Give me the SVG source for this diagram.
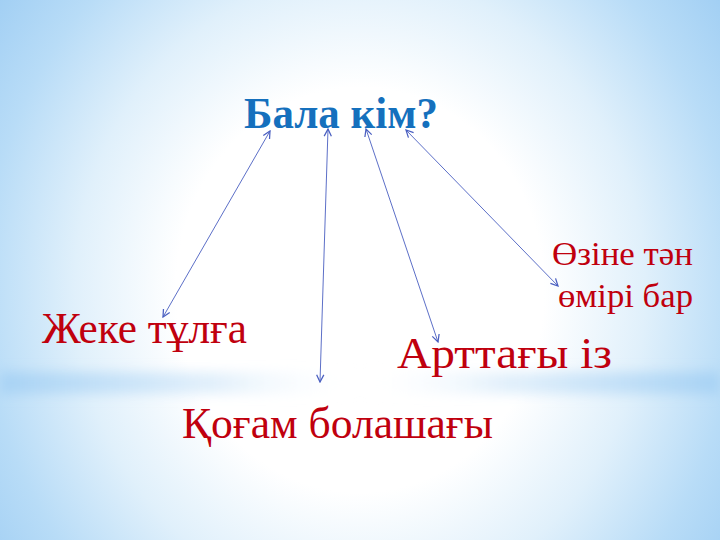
<svg xmlns="http://www.w3.org/2000/svg" width="720" height="540" viewBox="0 0 720 540">
<defs>
<radialGradient id="bg" cx="360" cy="290" r="460" gradientUnits="userSpaceOnUse" gradientTransform="translate(360 290) scale(1 1.1) translate(-360 -290)">
<stop offset="0" stop-color="#ffffff"/>
<stop offset="0.4" stop-color="#ffffff"/>
<stop offset="0.62" stop-color="#e0f0fb"/>
<stop offset="0.82" stop-color="#b8dcf7"/>
<stop offset="1" stop-color="#9ecdf3"/>
</radialGradient>
<linearGradient id="band" x1="0" y1="0" x2="1" y2="0">
<stop offset="0" stop-color="#a5d1f4" stop-opacity="0.9"/>
<stop offset="0.3" stop-color="#cfe6f9" stop-opacity="0.6"/>
<stop offset="0.5" stop-color="#ffffff" stop-opacity="0"/>
<stop offset="0.7" stop-color="#cfe6f9" stop-opacity="0.6"/>
<stop offset="1" stop-color="#a5d1f4" stop-opacity="0.9"/>
</linearGradient>
<filter id="blur" x="-0.1" y="-1" width="1.2" height="3"><feGaussianBlur stdDeviation="6"/></filter>
<marker id="ah" viewBox="0 0 10 10" refX="9" refY="5" markerWidth="9" markerHeight="9" markerUnits="userSpaceOnUse" orient="auto-start-reverse">
<path d="M1,1 L9,5 L1,9" fill="none" stroke="#4a5fc1" stroke-width="1.4"/>
</marker>
</defs>
<style>
.t{font-family:"Liberation Serif","DejaVu Serif","Times New Roman",serif;fill:#c0000e}
.c{stroke:#4a5fc1;stroke-width:0.9;fill:none;marker-start:url(#ah);marker-end:url(#ah)}
</style>
<rect width="720" height="540" fill="url(#bg)"/>
<rect x="0" y="372" width="720" height="22" fill="url(#band)" filter="url(#blur)"/>
<g id="node-title"><text class="t" x="244" y="128" font-size="44" font-weight="bold" style="fill:#1570bd" textLength="194" lengthAdjust="spacingAndGlyphs">Бала кім?</text></g>
<g id="node-jeke"><text class="t" x="42" y="343" font-size="44" textLength="205" lengthAdjust="spacingAndGlyphs">Жеке тұлға</text></g>
<g id="node-qogam"><text class="t" x="182" y="438" font-size="44" textLength="311" lengthAdjust="spacingAndGlyphs">Қоғам болашағы</text></g>
<g id="node-arttagy"><text class="t" x="397" y="368" font-size="45" textLength="215" lengthAdjust="spacingAndGlyphs">Арттағы із</text></g>
<g id="node-ozine"><text class="t" font-size="33"><tspan x="552" y="265" textLength="141" lengthAdjust="spacingAndGlyphs">Өзіне тән</tspan><tspan x="558" y="307" textLength="135" lengthAdjust="spacingAndGlyphs">өмірі бар</tspan></text></g>
<g id="connectors">
<line class="c" x1="270" y1="131" x2="163" y2="317"/>
<line class="c" x1="328" y1="129" x2="320" y2="382"/>
<line class="c" x1="366" y1="129" x2="438" y2="342"/>
<line class="c" x1="406" y1="130" x2="558" y2="286"/>
</g>
</svg>
